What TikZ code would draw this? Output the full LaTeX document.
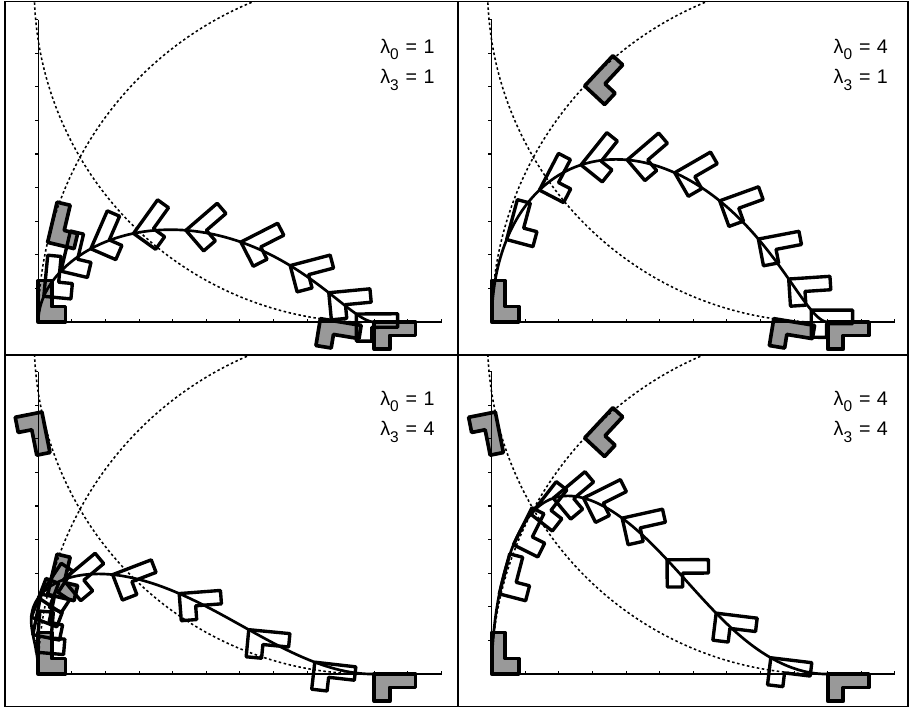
\documentclass[tikz,border=0pt]{standalone}
\usepackage{fontspec}
\setmainfont{Liberation Sans}
\newcommand\setpanel[4]{%
  \pgfmathsetmacro\sA{sin(-(#1)/2)}%
  \pgfmathsetmacro\cA{cos(-(#1)/2)}%
  \pgfmathsetmacro\bAa{(#2)*2*\sA*10.3}%
  \pgfmathsetmacro\bAb{0}%
  \pgfmathsetmacro\bAc{(#2)*2*\sA}%
  \pgfmathsetmacro\bAd{(#2)*2*\cA}%
  \pgfmathsetmacro\vAx{10.3-10.3*cos(#1)}%
  \pgfmathsetmacro\vAy{10.3*sin(#1)}%
  \pgfmathsetmacro\vAr{-(#1)}%
  \pgfmathsetmacro\vBx{9.8+0.2*cos(#3)-9.92*sin(#3)}%
  \pgfmathsetmacro\vBy{9.92-0.2*sin(#3)-9.92*cos(#3)}%
  \pgfmathsetmacro\vBr{-90-(#3)}%
  \pgfmathsetmacro\sB{sin(\vBr/2)}%
  \pgfmathsetmacro\cB{cos(\vBr/2)}%
  \pgfmathsetmacro\bBa{(#4)*(\vBx*\sB-\vBy*\cB)}%
  \pgfmathsetmacro\bBb{(#4)*(\vBx*\cB+\vBy*\sB)}%
  \pgfmathsetmacro\bBc{(#4)*2*\sB}%
  \pgfmathsetmacro\bBd{(#4)*2*\cB}%
}
\newcommand\lamlab[2]{λ\raisebox{-4.8pt}{\fontsize{11}{11}\selectfont #1}\hspace{5pt}=\hspace{4.5pt}#2}
\tikzset{
  motionfns/.style={declare function={
    bz(\vt,\vp,\vq,\vr,\vs)=(1-\vt)*(1-\vt)*(1-\vt)*\vp+3*(1-\vt)*(1-\vt)*\vt*\vq+3*(1-\vt)*\vt*\vt*\vr+\vt*\vt*\vt*\vs;
    Xa(\vt)=bz(\vt,0,\bAa,\bBa,-7.0711);
    Xb(\vt)=bz(\vt,0,\bAb,\bBb,7.0711);
    Xc(\vt)=bz(\vt,0,\bAc,\bBc,-1.4142);
    Xd(\vt)=bz(\vt,2,\bAd,\bBd,1.4142);
    pa(\vt)=2*(Xa(\vt)*Xc(\vt)+Xb(\vt)*Xd(\vt))/(Xc(\vt)*Xc(\vt)+Xd(\vt)*Xd(\vt));
    pb(\vt)=2*(Xb(\vt)*Xc(\vt)-Xa(\vt)*Xd(\vt))/(Xc(\vt)*Xc(\vt)+Xd(\vt)*Xd(\vt));
    pr(\vt)=2*atan2(Xc(\vt),Xd(\vt));
  }},
  pics/Lshape/.style={code={\path[pic actions] (0,0)--(0.81,0)--(0.81,0.46)--(0.4,0.46)--(0.4,1.23)--(0,1.23)--cycle;}},
  grayfill/.style={fill=black!40},
  grayline/.style={draw=black, line width=2.6pt, line join=round},
  whiteL/.style={draw=black, line width=2.4pt, line join=round},
  curve/.style={draw=black, line width=1.9pt},
  axis/.style={draw=black, line width=0.8pt},
  dotc/.style={draw=black, line width=1.1pt, dash pattern=on 1.8pt off 1.8pt},
  lab/.style={font=\fontsize{14}{16}\selectfont, inner sep=0pt},
  frame/.style={draw=black, line width=1.3pt}
}
\newcommand\drawpanel[9]{%
\begin{scope}[shift={(#1,#2)}, x=8.4mm, y=8.4mm]
  \setpanel{#3}{#4}{#5}{#6}
  \begin{scope}[motionfns]
    \pic[grayfill] at (0,0) {Lshape};
    \pic[grayfill, rotate=-90] at (10,0) {Lshape};
    \pic[grayfill, rotate=\vAr] at (\vAx,\vAy) {Lshape};
    \pic[grayfill, rotate=\vBr] at (\vBx,\vBy) {Lshape};
    \draw[axis] (0,9) -- (0,0) -- (12,0);
    \foreach \i in {1,...,12} \draw[axis] (\i,0) -- (\i,0.1);
    \foreach \i in {1,...,9} \draw[axis] (0,\i) -- (-0.1,\i);
    \begin{scope}
      \clip (-1,-0.97) rectangle (12.38,9.51);
      \draw[dotc] (0,0) arc[start angle=180, end angle=100, radius=10.3];
      \draw[dotc] (9.8,9.92) ++(178:9.922) arc[start angle=178, end angle=272, radius=9.922];
    \end{scope}
    \pic[grayline] at (0,0) {Lshape};
    \pic[grayline, rotate=-90] at (10,0) {Lshape};
    \pic[grayline, rotate=\vAr] at (\vAx,\vAy) {Lshape};
    \pic[grayline, rotate=\vBr] at (\vBx,\vBy) {Lshape};
    \foreach \tv in {0.1,0.2,0.3,0.4,0.5,0.6,0.7,0.8,0.9} {
      \pgfmathsetmacro\LA{pa(\tv)}
      \pgfmathsetmacro\LB{pb(\tv)}
      \pgfmathsetmacro\LR{pr(\tv)}
      \pic[whiteL, rotate=\LR] at (\LA,\LB) {Lshape};
    }
    \draw[curve] plot[variable=\vv, domain=0:1, samples=150] ({pa(\vv)},{pb(\vv)});
    \node[lab, anchor=base east] (laba#9) at (11.8,8.0) {\lamlab{0}{#7}};
    \node[lab, anchor=base east] (labb#9) at (11.8,7.1) {\lamlab{3}{#8}};
  \end{scope}
\end{scope}}
\begin{document}
\begin{tikzpicture}[x=0.25mm, y=0.25mm]
  \useasboundingbox (0,0) rectangle (910,708);
  \drawpanel{38.3}{386}{13.3}{1.072}{9.3}{0.835}{1}{1}{A}
  \drawpanel{491.7}{386}{43}{1.355}{9.3}{0.835}{4}{1}{B}
  \drawpanel{38.3}{34}{13.3}{1.072}{78.8}{0.427}{1}{4}{C}
  \drawpanel{491.7}{34}{43}{1.355}{78.8}{0.427}{4}{4}{D}
  \draw[frame] (5,1.5) rectangle (908,706.5);
  \draw[frame] (458,1.5) -- (458,706.5);
  \draw[frame] (5,353) -- (908,353);
\end{tikzpicture}
\end{document}
